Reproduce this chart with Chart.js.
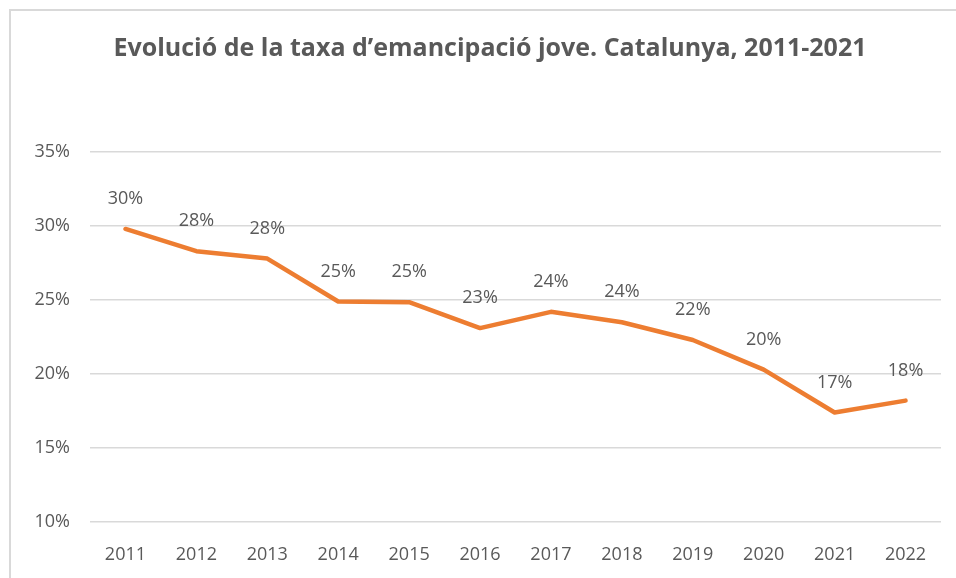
<!DOCTYPE html>
<html>
<head>
<meta charset="utf-8">
<script src="https://cdn.jsdelivr.net/npm/chart.js@4"></script>
<style>
  html, body { margin: 0; padding: 0; background: #fff; overflow: hidden; }
  #frame { position: absolute; left: 9px; top: 9px; width: 1000px; height: 1000px; border: 2px solid #d9d9d9; }
  #wrap { position: absolute; left: 0; top: 0; width: 956px; height: 578px; }
</style>
</head>
<body>
<div id="frame"></div>
<div id="wrap"><canvas id="chart"></canvas></div>
<script>
// Youth emancipation rate, Catalonia
const years = ['2011', '2012', '2013', '2014', '2015', '2016', '2017', '2018', '2019', '2020', '2021', '2022'];
const rates = [29.8, 28.3, 27.8, 24.9, 24.85, 23.1, 24.2, 23.5, 22.3, 20.3, 17.4, 18.2];
const yTicks = [10, 15, 20, 25, 30, 35];
const chartTitle = 'Evolució de la taxa d’emancipació jove. Catalunya, 2011-2021';

const textColor = '#595959';
const lineColor = '#ED7D31';

// title drawn by hand so it can sit a bit right of the canvas centre
const titlePlugin = {
  id: 'titlePlugin',
  afterDraw(chart) {
    const ctx = chart.ctx;
    ctx.save();
    ctx.font = 'bold 25px "Open Sans"';
    ctx.fillStyle = textColor;
    ctx.textAlign = 'center';
    ctx.textBaseline = 'middle';
    ctx.fillText(chartTitle, 490, 49);
    ctx.restore();
  }
};

// data labels above each point
const pointLabels = {
  id: 'pointLabels',
  afterDatasetsDraw(chart) {
    const ctx = chart.ctx;
    const meta = chart.getDatasetMeta(0);
    ctx.save();
    ctx.font = '18px "Open Sans"';
    ctx.fillStyle = textColor;
    ctx.textAlign = 'center';
    ctx.textBaseline = 'middle';
    meta.data.forEach((pt, i) => {
      ctx.fillText(Math.round(rates[i]) + '%', pt.x, pt.y - 30);
    });
    ctx.restore();
  }
};

new Chart(document.getElementById('chart'), {
  type: 'line',
  data: {
    labels: years,
    datasets: [{
      data: rates,
      borderColor: lineColor,
      borderWidth: 4.5,
      borderCapStyle: 'round',
      borderJoinStyle: 'round',
      pointRadius: 0,
      tension: 0
    }]
  },
  options: {
    responsive: true,
    maintainAspectRatio: false,
    animation: false,
    layout: { padding: { left: 0, right: 15, top: 152, bottom: 0 } },
    plugins: {
      legend: { display: false },
      tooltip: { enabled: false },
      title: { display: false }
    },
    scales: {
      x: {
        offset: true,
        grid: { display: false },
        border: { display: false },
        ticks: { color: textColor, font: { family: 'Open Sans', size: 18 }, padding: 14, maxRotation: 0 },
        afterFit(scale) { scale.height = 56; }
      },
      y: {
        min: 10,
        max: 35,
        afterBuildTicks(scale) { scale.ticks = yTicks.map(v => ({ value: v })); },
        grid: { color: '#d9d9d9', lineWidth: 1.5, drawTicks: false },
        border: { display: false },
        ticks: {
          color: textColor,
          font: { family: 'Open Sans', size: 18 },
          padding: 20,
          callback: v => v + '%'
        },
        afterFit(scale) { scale.width = 90; }
      }
    }
  },
  plugins: [pointLabels, titlePlugin]
});
</script>
</body>
</html>
